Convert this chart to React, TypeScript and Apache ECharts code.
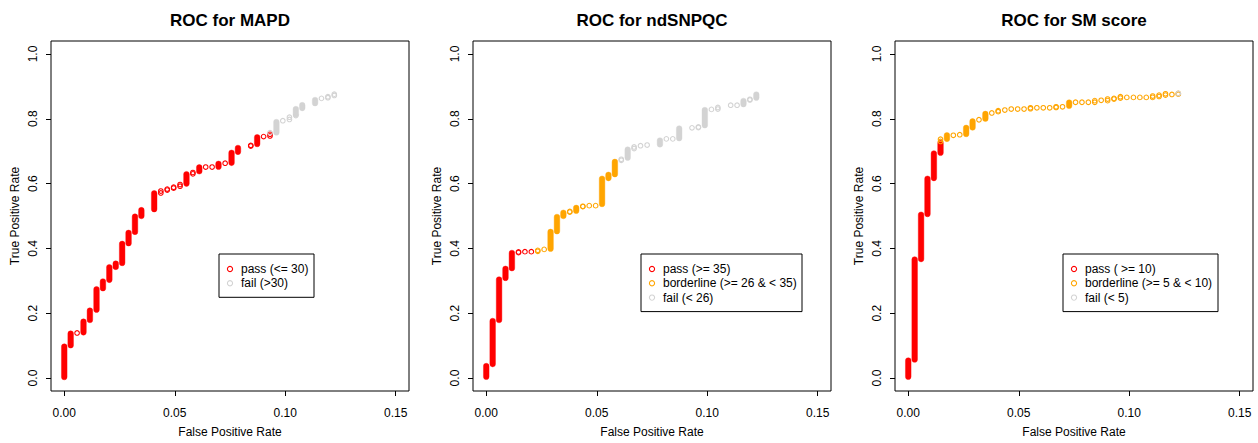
import React, { useEffect, useRef } from "react";
import * as echarts from "echarts";

// ---- data: [FPR, TPR low, TPR high] runs of points at equal FPR ----
const mapdPass: number[][] = [
  [0, 0.003, 0.097], [0.0029, 0.101, 0.137], [0.0058, 0.139, 0.139], [0.0087, 0.141, 0.174],
  [0.0116, 0.179, 0.208], [0.0146, 0.211, 0.274], [0.0175, 0.277, 0.298], [0.0204, 0.303, 0.342],
  [0.0233, 0.343, 0.353], [0.0262, 0.355, 0.414], [0.0291, 0.416, 0.448], [0.032, 0.451, 0.498],
  [0.0349, 0.5, 0.518], [0.0407, 0.521, 0.57], [0.0437, 0.571, 0.577], [0.0466, 0.58, 0.583],
  [0.0495, 0.586, 0.589], [0.0524, 0.592, 0.597], [0.0553, 0.6, 0.629], [0.0582, 0.63, 0.634],
  [0.0611, 0.638, 0.65], [0.064, 0.651, 0.651], [0.0669, 0.651, 0.651], [0.0698, 0.652, 0.661],
  [0.0728, 0.663, 0.663], [0.0757, 0.664, 0.695], [0.0786, 0.698, 0.71], [0.0844, 0.716, 0.718],
  [0.0873, 0.722, 0.743], [0.0902, 0.745, 0.745], [0.0931, 0.747, 0.752],
];
const mapdFail: number[][] = [
  [0.0931, 0.757, 0.757], [0.096, 0.758, 0.79], [0.0989, 0.794, 0.794], [0.1019, 0.798, 0.805],
  [0.1048, 0.81, 0.81], [0.1048, 0.813, 0.83], [0.1077, 0.833, 0.842], [0.1135, 0.848, 0.858],
  [0.1164, 0.863, 0.863], [0.1193, 0.865, 0.868], [0.1222, 0.872, 0.876],
];

const ndPass: number[][] = [
  [0, 0.004, 0.037], [0.0029, 0.043, 0.176], [0.0058, 0.179, 0.304], [0.0087, 0.309, 0.337],
  [0.0116, 0.339, 0.386], [0.0146, 0.387, 0.389], [0.0175, 0.39, 0.39], [0.0204, 0.39, 0.39],
];
const ndBorder: number[][] = [
  [0.0233, 0.391, 0.394], [0.0262, 0.397, 0.397], [0.0291, 0.399, 0.451], [0.032, 0.453, 0.497],
  [0.0349, 0.5, 0.51], [0.0378, 0.512, 0.514], [0.0407, 0.516, 0.525], [0.0437, 0.529, 0.53],
  [0.0466, 0.532, 0.532], [0.0495, 0.532, 0.532], [0.0524, 0.537, 0.615], [0.0553, 0.617, 0.627],
  [0.0582, 0.629, 0.667],
];
const ndFail: number[][] = [
  [0.0611, 0.672, 0.675], [0.064, 0.68, 0.705], [0.0669, 0.708, 0.713], [0.0698, 0.717, 0.717],
  [0.0728, 0.719, 0.719], [0.0786, 0.721, 0.733], [0.0815, 0.738, 0.738], [0.0844, 0.738, 0.738],
  [0.0873, 0.74, 0.77], [0.0931, 0.772, 0.772], [0.096, 0.773, 0.775], [0.0989, 0.78, 0.827],
  [0.1019, 0.829, 0.829], [0.1048, 0.83, 0.835], [0.1106, 0.842, 0.842], [0.1135, 0.842, 0.842],
  [0.1164, 0.845, 0.855], [0.1193, 0.858, 0.86], [0.1222, 0.865, 0.875],
];

const smPass: number[][] = [
  [0, 0.004, 0.054], [0.0029, 0.057, 0.366], [0.0058, 0.367, 0.504], [0.0087, 0.506, 0.615],
  [0.0116, 0.617, 0.693], [0.0146, 0.695, 0.725],
];
const smBorder: number[][] = [
  [0.0146, 0.73, 0.737], [0.0175, 0.738, 0.749], [0.0204, 0.749, 0.749], [0.0233, 0.751, 0.751],
  [0.0262, 0.753, 0.772], [0.0291, 0.773, 0.792], [0.032, 0.797, 0.797], [0.0349, 0.8, 0.815],
  [0.0378, 0.818, 0.818], [0.0407, 0.822, 0.825], [0.0437, 0.827, 0.827], [0.0466, 0.83, 0.83],
  [0.0495, 0.83, 0.83], [0.0524, 0.83, 0.83], [0.0553, 0.831, 0.834], [0.0582, 0.834, 0.834],
  [0.0611, 0.834, 0.834], [0.064, 0.834, 0.834], [0.0669, 0.835, 0.837], [0.0698, 0.837, 0.837],
  [0.0728, 0.84, 0.85], [0.0757, 0.851, 0.851], [0.0786, 0.851, 0.851], [0.0815, 0.851, 0.851],
  [0.0844, 0.851, 0.856], [0.0873, 0.857, 0.857], [0.0902, 0.856, 0.861], [0.0931, 0.861, 0.863],
  [0.096, 0.864, 0.868], [0.0989, 0.866, 0.866], [0.1019, 0.866, 0.866], [0.1048, 0.866, 0.866],
  [0.1077, 0.866, 0.866], [0.1106, 0.866, 0.87], [0.1135, 0.869, 0.873], [0.1164, 0.873, 0.877],
  [0.1193, 0.875, 0.875], [0.1222, 0.876, 0.878],
];
const smFail: number[][] = [[0.1222, 0.878, 0.878]];

const titles = ["ROC for MAPD", "ROC for ndSNPQC", "ROC for SM score"];
const xTicks = [0, 0.05, 0.1, 0.15];
const yTicks = [0, 0.2, 0.4, 0.6, 0.8, 1.0];
const legendLabels = [
  ["pass (<= 30)", "fail (>30)"],
  ["pass (>= 35)", "borderline (>= 26 & < 35)", "fail (< 26)"],
  ["pass ( >= 10)", "borderline (>= 5 & < 10)", "fail (< 5)"],
];

const RED = "#FF0000";
const ORANGE = "#FFA500";
const GREY = "#D3D3D3";
const FONT = '"Liberation Sans", Arial, Helvetica, sans-serif';

const panelSeries: { data: number[][]; color: string }[][] = [
  [{ data: mapdPass, color: RED }, { data: mapdFail, color: GREY }],
  [{ data: ndPass, color: RED }, { data: ndBorder, color: ORANGE }, { data: ndFail, color: GREY }],
  [{ data: smPass, color: RED }, { data: smBorder, color: ORANGE }, { data: smFail, color: GREY }],
];
const legendColors = [[RED, GREY], [RED, ORANGE, GREY], [RED, ORANGE, GREY]];
const legendWidths = [95, 161, 155];

const GRID_LEFTS = [51, 473, 895];
const GRID_TOP = 41;
const GRID_W = 358;
const GRID_H = 359;

function makeRenderItem(color: string) {
  return (params: any, api: any) => {
    const x = api.value(0);
    const lo = api.value(1);
    const hi = api.value(2);
    const pLo = api.coord([x, lo]);
    const pHi = api.coord([x, hi]);
    const span = pLo[1] - pHi[1];
    if (span > 2.5) {
      return {
        type: "rect",
        shape: { x: pLo[0] - 2.8, y: pHi[1] - 2.8, width: 5.6, height: span + 5.6, r: 2.8 },
        style: { fill: color, stroke: color, lineWidth: 0.4 },
      };
    }
    const children: any[] = [
      { type: "circle", shape: { cx: pLo[0], cy: pLo[1], r: 2.3 }, style: { fill: "none", stroke: color, lineWidth: 1.1 } },
    ];
    if (span > 0.3) {
      children.push({ type: "circle", shape: { cx: pHi[0], cy: pHi[1], r: 2.3 }, style: { fill: "none", stroke: color, lineWidth: 1.1 } });
    }
    return { type: "group", children };
  };
}

export default function App() {
  const ref = useRef<HTMLDivElement>(null);
  useEffect(() => {
    if (!ref.current) return;
    const chart = echarts.init(ref.current, undefined, { renderer: "svg" });

    const grid = GRID_LEFTS.map((left) => ({
      left, top: GRID_TOP, width: GRID_W, height: GRID_H,
      show: true, borderColor: "#000", borderWidth: 1, backgroundColor: "transparent",
    }));
    const xAxis = GRID_LEFTS.map((_, i) => ({
      type: "value", gridIndex: i, min: -0.006, max: 0.156, position: "bottom",
      name: "False Positive Rate", nameLocation: "middle", nameGap: 35,
      nameTextStyle: { fontSize: 12, color: "#000", fontFamily: FONT },
      axisLine: { show: false, onZero: false },
      axisTick: { show: true, length: 5, lineStyle: { color: "#000" }, customValues: xTicks },
      axisLabel: { show: true, fontSize: 12, color: "#000", fontFamily: FONT, margin: 15.5, customValues: xTicks,
        formatter: (v: number) => v.toFixed(2) },
      splitLine: { show: false },
    }));
    const yAxis = GRID_LEFTS.map((_, i) => ({
      type: "value", gridIndex: i, min: -0.04, max: 1.04, position: "left",
      name: "True Positive Rate", nameLocation: "middle", nameGap: 30,
      nameTextStyle: { fontSize: 12, color: "#000", fontFamily: FONT },
      axisLine: { show: false, onZero: false },
      axisTick: { show: true, length: 5, lineStyle: { color: "#000" }, customValues: yTicks },
      axisLabel: { show: true, fontSize: 12, color: "#000", fontFamily: FONT, margin: 12.5, rotate: 90, customValues: yTicks,
        formatter: (v: number) => v.toFixed(1) },
      splitLine: { show: false },
    }));

    const series: any[] = [];
    panelSeries.forEach((list, i) => {
      list.forEach((s) => {
        series.push({
          type: "custom", xAxisIndex: i, yAxisIndex: i, data: s.data,
          encode: { x: 0, y: [1, 2] }, renderItem: makeRenderItem(s.color), silent: true,
        });
      });
    });

    const graphic: any[] = [];
    GRID_LEFTS.forEach((left, i) => {
      graphic.push({
        type: "text", x: left + GRID_W / 2, y: 20,
        style: { text: titles[i], font: `bold 17px ${FONT}`, fill: "#000", align: "center", verticalAlign: "middle" },
      });
      const labels = legendLabels[i];
      const bx = left + 168;
      const by = 254;
      const h = 15 + (labels.length - 1) * 14.3 + 14;
      graphic.push({
        type: "rect", shape: { x: bx, y: by, width: legendWidths[i], height: h },
        style: { fill: "#fff", stroke: "#000", lineWidth: 1 },
      });
      labels.forEach((lab, j) => {
        const cy = by + 15 + j * 14.3;
        graphic.push({
          type: "circle", shape: { cx: bx + 11, cy, r: 2.6 },
          style: { fill: "none", stroke: legendColors[i][j], lineWidth: 1.1 },
        });
        graphic.push({
          type: "text", x: bx + 22, y: cy,
          style: { text: lab, font: `12px ${FONT}`, fill: "#000", align: "left", verticalAlign: "middle" },
        });
      });
    });

    chart.setOption({
      animation: false,
      backgroundColor: "#fff",
      textStyle: { fontFamily: FONT },
      grid, xAxis, yAxis, series, graphic,
    });
    return () => chart.dispose();
  }, []);
  return <div ref={ref} style={{ position: "fixed", left: 0, top: 0, width: 1258, height: 443 }} />;
}
